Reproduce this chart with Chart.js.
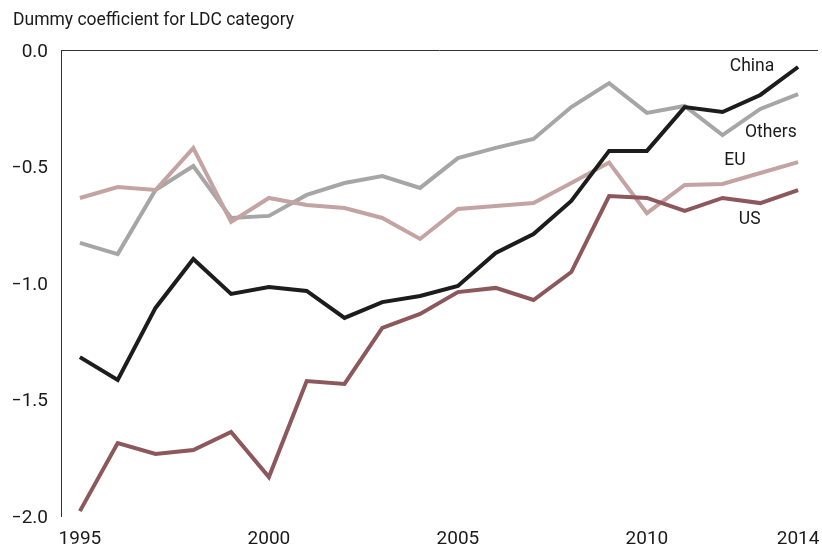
<!DOCTYPE html>
<html>
<head>
<meta charset="utf-8">
<script src="https://cdn.jsdelivr.net/npm/chart.js@4"></script>
<style>
html,body{margin:0;padding:0;background:#fff;}
#wrap{width:822px;height:551px;position:relative;}
</style>
</head>
<body>
<div id="wrap"><canvas id="c" width="822" height="551"></canvas></div>
<script>
const years = [1995,1996,1997,1998,1999,2000,2001,2002,2003,2004,2005,2006,2007,2008,2009,2010,2011,2012,2013,2014];
const china  = [-1.318,-1.416,-1.107,-0.897,-1.047,-1.017,-1.034,-1.150,-1.082,-1.056,-1.013,-0.871,-0.790,-0.648,-0.433,-0.433,-0.245,-0.266,-0.193,-0.073];
const others = [-0.828,-0.876,-0.601,-0.498,-0.721,-0.712,-0.622,-0.571,-0.541,-0.592,-0.464,-0.420,-0.382,-0.245,-0.142,-0.270,-0.240,-0.365,-0.253,-0.189];
const eu     = [-0.635,-0.588,-0.601,-0.421,-0.738,-0.635,-0.665,-0.678,-0.721,-0.811,-0.682,-0.670,-0.657,-0.571,-0.483,-0.700,-0.579,-0.575,-0.528,-0.481];
const us     = [-1.979,-1.687,-1.734,-1.717,-1.639,-1.833,-1.421,-1.433,-1.193,-1.133,-1.039,-1.021,-1.073,-0.953,-0.627,-0.635,-0.690,-0.635,-0.657,-0.601];
const xTicks = [1995,2000,2005,2010,2014];
const yTicks = [0,-0.5,-1,-1.5,-2];
const seriesNames = ['China','US','EU','Others'];
const titleText = 'Dummy coefficient for LDC category';
// label anchor points (data coordinates)
const labelYears  = [2012.78, 2012.72, 2012.33, 2013.28];
const labelValues = [-0.073, -0.730, -0.476, -0.356];

const FONT = 'Roboto, "Liberation Sans", sans-serif';
const colors = ['#1c1c1c','#8c585c','#c4a3a3','#a6a6a6'];
const seriesData = [china, us, eu, others];

const datasets = seriesData.map((arr,i)=>({
  label: seriesNames[i],
  data: years.map((y,j)=>({x:y, y:arr[j]})),
  borderColor: colors[i],
  backgroundColor: colors[i],
  borderWidth: 4,
  pointRadius: 0,
  tension: 0,
  fill: false,
  borderJoinStyle: 'miter',
  borderCapStyle: 'butt'
}));

const seriesLabels = {
  id: 'seriesLabels',
  afterDatasetsDraw(chart){
    const ctx = chart.ctx, xs = chart.scales.x, ys = chart.scales.y;
    ctx.save();
    ctx.font = '17.5px ' + FONT;
    ctx.fillStyle = '#1a1a1a';
    ctx.textAlign = 'center';
    ctx.textBaseline = 'middle';
    seriesNames.forEach((n,i)=>{
      ctx.fillText(n, xs.getPixelForValue(labelYears[i]), ys.getPixelForValue(labelValues[i]));
    });
    ctx.restore();
  }
};

new Chart(document.getElementById('c'), {
  type: 'line',
  data: { datasets },
  plugins: [seriesLabels],
  options: {
    responsive: false,
    animation: false,
    layout: { padding: { left: 13, right: 5, top: 0, bottom: 0 } },
    plugins: {
      legend: { display: false },
      tooltip: { enabled: false },
      title: {
        display: true,
        text: titleText,
        align: 'start',
        color: '#1a1a1a',
        font: { family: FONT, size: 17.5, weight: 'normal' },
        padding: { top: 10, bottom: 19 }
      }
    },
    scales: {
      x: {
        type: 'linear',
        min: 1994.5,
        max: 2014.5,
        afterBuildTicks(s){ s.ticks = xTicks.map(v=>({value:v})); },
        afterFit(s){ s.height = 35; s.paddingLeft = 0; s.paddingRight = 0; },
        grid: { display: false, drawTicks: false },
        border: { display: false },
        ticks: {
          padding: 12,
          color: '#1a1a1a',
          font: { family: FONT, size: 19 },
          maxRotation: 0,
          autoSkip: false,
          callback: v => String(v)
        }
      },
      x2: {
        type: 'linear',
        position: 'top',
        min: 1994.5,
        max: 2014.5,
        afterFit(s){ s.height = 0; s.paddingLeft = 0; s.paddingRight = 0; },
        grid: { display: false, drawTicks: false },
        border: { display: true, color: '#333', width: 1 },
        ticks: { display: false }
      },
      y: {
        min: -2,
        max: 0,
        afterBuildTicks(s){ s.ticks = yTicks.map(v=>({value:v})); },
        afterFit(s){ s.width = 48; s.paddingTop = 0; s.paddingBottom = 0; },
        grid: { display: false, drawTicks: false },
        border: { display: true, color: '#333', width: 1 },
        ticks: {
          padding: 13,
          labelOffset: 2,
          color: '#1a1a1a',
          font: { family: FONT, size: 19 },
          callback: v => (v < 0 ? '\u2013' : '') + Math.abs(v).toFixed(1)
        }
      }
    }
  }
});
</script>
</body>
</html>
